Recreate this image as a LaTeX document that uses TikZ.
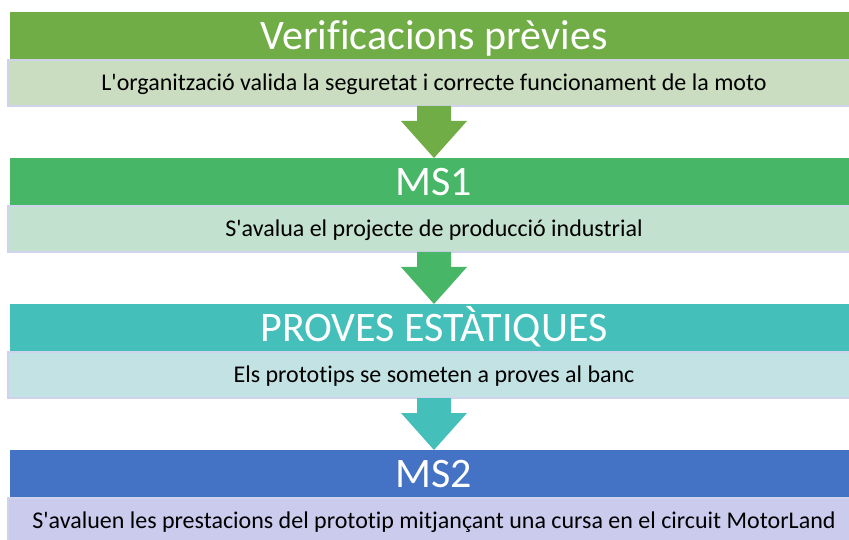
\documentclass[tikz,border=0pt]{standalone}
\usepackage{fontspec}
\setmainfont{Carlito}[Ligatures=NoCommon]
\usetikzlibrary{positioning,calc}

\definecolor{stageA}{HTML}{70AD47}
\definecolor{stageB}{HTML}{47B767}
\definecolor{stageC}{HTML}{45BFBA}
\definecolor{stageD}{HTML}{4472C4}
\definecolor{noteA}{HTML}{CADDC1}
\definecolor{noteB}{HTML}{C3E1CF}
\definecolor{noteC}{HTML}{C3E2E3}
\definecolor{noteD}{HTML}{CBCBEE}
\definecolor{noteedge}{HTML}{D0D3EC}

% block arrow from the note box down to the next stage
\newcommand{\stagearrow}[3]{%
  \fill[#3] ($(#1.south)+(-17pt,0)$) -- ($(#1.south)+(17pt,0)$)
    -- ($(#1.south)+(17pt,-15pt)$) -- ($(#1.south)+(33pt,-15pt)$)
    -- (#2.north)
    -- ($(#1.south)+(-33pt,-15pt)$) -- ($(#1.south)+(-17pt,-15pt)$) -- cycle;}

\begin{document}
\begin{tikzpicture}[
    stage/.style={minimum width=848pt, minimum height=48pt, inner sep=0pt, outer sep=0pt,
      text=white, text height=26.5pt, text depth=0pt, font=\fontsize{42}{42}\selectfont},
    note/.style={minimum width=852pt, minimum height=46pt, inner sep=0pt, outer sep=0pt,
      draw=noteedge, line width=2pt, text height=15pt, text depth=0pt,
      font=\fontsize{24}{24}\selectfont},
]
\useasboundingbox (0,0) rectangle (849pt,-540pt);

\node[stage, fill=stageA] (ver) at (434pt,-36pt) {Verificacions prèvies};
\node[note, fill=noteA, below=0pt of ver] (verN) {L\textquotesingle organització valida la seguretat i correcte funcionament de la moto};

\node[stage, fill=stageB, below=52pt of verN] (ms1) {MS1};
\node[note, fill=noteB, below=0pt of ms1] (ms1N) {S\textquotesingle avalua el projecte de producció industrial};

\node[stage, fill=stageC, below=52pt of ms1N] (prov) {PROVES ESTÀTIQUES};
\node[note, fill=noteC, below=0pt of prov] (provN) {Els prototips se someten a proves al banc};

\node[stage, fill=stageD, below=52pt of provN] (ms2) {MS2};
\node[note, fill=noteD, below=0pt of ms2] (ms2N) {S\textquotesingle avaluen les prestacions del prototip mitjançant una cursa en el circuit MotorLand};

\stagearrow{verN}{ms1}{stageA}
\stagearrow{ms1N}{prov}{stageB}
\stagearrow{provN}{ms2}{stageC}
\end{tikzpicture}
\end{document}
